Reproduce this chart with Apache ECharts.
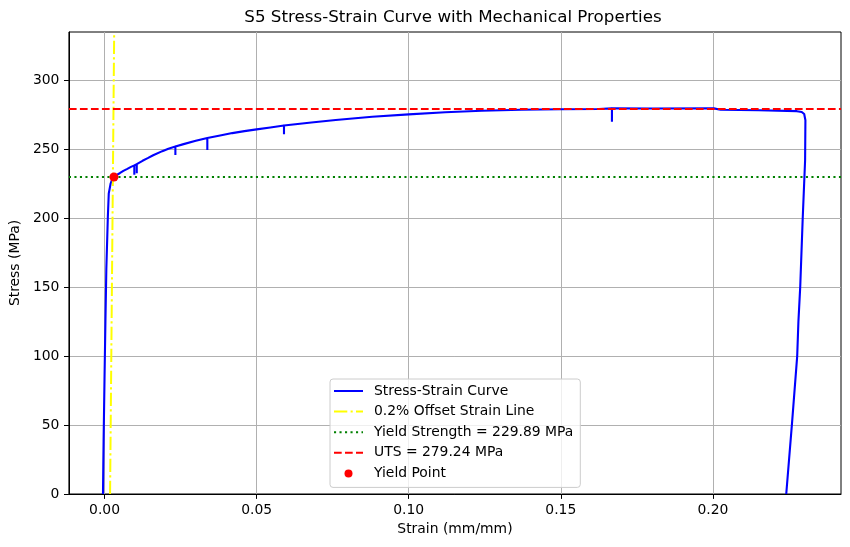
<!DOCTYPE html>
<html>
<head>
<meta charset="utf-8">
<script src="https://cdn.jsdelivr.net/npm/echarts@6/dist/echarts.min.js"></script>
<style>html,body{margin:0;padding:0;background:#fff}#c{width:850px;height:547px}</style>
</head>
<body>
<div id="c"></div>
<script>
// ---- data ----
const strain = [-0.0005,-0.0004,-0.0003,0.0000,0.0003,0.0006,0.0011,0.0014,0.0020,0.0026,0.0031,
  0.0040,0.0050,0.0062,0.0075,0.0087,0.0098,0.0098,0.0098,0.0106,0.0106,0.0106,0.0125,0.0142,0.0160,
  0.0190,0.0210,0.0233,0.0233,0.0233,0.0260,0.0300,0.0338,0.0338,0.0338,0.0380,0.0420,0.0460,
  0.0500,0.0545,0.0590,0.0590,0.0590,0.0680,0.0760,0.0880,0.1000,
  0.1120,0.1240,0.1370,0.1500,0.1625,0.1627,0.1668,0.1668,0.1668,0.1800,0.2003,0.2025,0.2150,
  0.2276,0.2292,0.2300,0.2304,0.2303,0.2295,0.2287,0.2281,0.2277,0.2260,0.2241];
const stress = [0,20,38,83,125,163,201,218,225,228.5,230.2,
  231.4,232.6,234.3,235.8,237.2,238.3,231.5,238.3,239.2,232.5,239.2,241.6,243.5,245.6,
  248.6,250.3,251.9,245.9,251.9,253.7,256.1,258.2,249.5,258.2,260.0,261.7,263.1,
  264.4,265.8,267.2,260.9,267.2,269.4,271.2,273.5,275.3,
  276.8,277.9,278.6,279.0,279.2,279.6,279.6,270.0,279.6,279.5,279.6,278.6,278.3,
  277.6,277.0,275.5,271.0,242.0,199.0,150.4,125,100,51.4,0];
const offsetStrain = [0.00183, 0.00318];
const offsetStress = [0, 335];
const yieldStrength = 229.89;
const uts = 279.24;
const yieldPoint = [0.0031, 229.89];
const xTicks = [0, 0.05, 0.10, 0.15, 0.20];
const yTicks = [0, 50, 100, 150, 200, 250, 300];
const xRange = [-0.0117, 0.2421];
const yRange = [0, 335];

const FONT = 'DejaVu Sans';
const chart = echarts.init(document.getElementById('c'), null, {renderer: 'canvas'});
const curve = strain.map((s, i) => [s, stress[i]]);
const offsetLine = offsetStrain.map((s, i) => [s, offsetStress[i]]);
const noSym = {opacity: 0};

chart.setOption({
  animation: false,
  backgroundColor: '#fff',
  title: {
    text: 'S5 Stress-Strain Curve with Mechanical Properties',
    left: 453, top: 9, textAlign: 'center', padding: 0,
    textStyle: {fontFamily: FONT, fontSize: 16.7, fontWeight: 'normal', color: '#000'}
  },
  grid: {left: 66, right: 9, top: 32, bottom: 53, show: true, borderColor: '#000', borderWidth: 1, backgroundColor: 'transparent'},
  legend: {
    orient: 'vertical', left: 330, top: 379,
    padding: [5, 7, 7, 3], itemGap: 6.6, itemWidth: 29, itemHeight: 8,
    backgroundColor: 'rgba(255,255,255,0.8)', borderColor: '#cccccc', borderWidth: 1, borderRadius: 3,
    textStyle: {fontFamily: FONT, fontSize: 13.9, color: '#000', lineHeight: 14, padding: [0, 0, 0, 6]},
    data: [
      {name: 'Stress-Strain Curve', itemStyle: noSym},
      {name: '0.2% Offset Strain Line', itemStyle: noSym},
      {name: 'Yield Strength = 229.89 MPa', itemStyle: noSym},
      {name: 'UTS = 279.24 MPa', itemStyle: noSym},
      {name: 'Yield Point', icon: 'circle', itemStyle: {opacity: 1, color: '#ff0000'}}]
  },
  xAxis: {
    type: 'value', min: xRange[0], max: xRange[1],
    name: 'Strain (mm/mm)', nameLocation: 'middle', nameGap: 28,
    nameTextStyle: {fontFamily: FONT, fontSize: 13.9, color: '#000'},
    axisLine: {show: true, onZero: false, lineStyle: {color: '#000', width: 1}},
    axisTick: {show: true, inside: false, length: 4.9, lineStyle: {color: '#000'}, customValues: xTicks},
    axisLabel: {margin: 9.5, fontFamily: FONT, fontSize: 13.9, color: '#000', customValues: xTicks,
      formatter: v => v.toFixed(2)},
    splitLine: {show: true, lineStyle: {color: '#b0b0b0', width: 1}}
  },
  yAxis: {
    type: 'value', min: yRange[0], max: yRange[1],
    name: 'Stress (MPa)', nameLocation: 'middle', nameGap: 36,
    nameTextStyle: {fontFamily: FONT, fontSize: 13.9, color: '#000'},
    axisLine: {show: true, onZero: false, lineStyle: {color: '#000', width: 1}},
    axisTick: {show: true, inside: false, length: 4.9, lineStyle: {color: '#000'}, customValues: yTicks},
    axisLabel: {margin: 9.5, fontFamily: FONT, fontSize: 13.9, color: '#000', customValues: yTicks,
      formatter: v => String(Math.round(v))},
    splitLine: {show: true, lineStyle: {color: '#b0b0b0', width: 1}}
  },
  series: [
    {name: 'Stress-Strain Curve', type: 'line', data: curve, symbol: 'none', z: 2,
      lineStyle: {color: '#0000ff', width: 2.1}, itemStyle: {color: '#0000ff'}},
    {name: '0.2% Offset Strain Line', type: 'line', data: offsetLine, symbol: 'none', z: 3,
      lineStyle: {color: '#ffff00', width: 2, type: [13.3, 3.3, 2.1, 3.3], cap: 'butt'}, itemStyle: {color: '#ffff00'}},
    {name: 'Yield Strength = 229.89 MPa', type: 'line', data: [], symbol: 'none', z: 4,
      lineStyle: {color: '#008000', width: 2, type: [2.1, 3.4], cap: 'butt'}, itemStyle: {color: '#008000'},
      markLine: {silent: true, symbol: 'none', label: {show: false}, animation: false,
        lineStyle: {color: '#008000', width: 2, type: [2.1, 3.4], cap: 'butt'},
        data: [{yAxis: yieldStrength}]}},
    {name: 'UTS = 279.24 MPa', type: 'line', data: [], symbol: 'none', z: 5,
      lineStyle: {color: '#ff0000', width: 2, type: [7.7, 3.3], cap: 'butt'}, itemStyle: {color: '#ff0000'},
      markLine: {silent: true, symbol: 'none', label: {show: false}, animation: false,
        lineStyle: {color: '#ff0000', width: 2, type: [7.7, 3.3], cap: 'butt'},
        data: [{yAxis: uts}]}},
    {name: 'Yield Point', type: 'scatter', data: [yieldPoint], symbol: 'circle', symbolSize: 9, z: 6,
      itemStyle: {color: '#ff0000', opacity: 1}}
  ]
});
</script>
</body>
</html>
